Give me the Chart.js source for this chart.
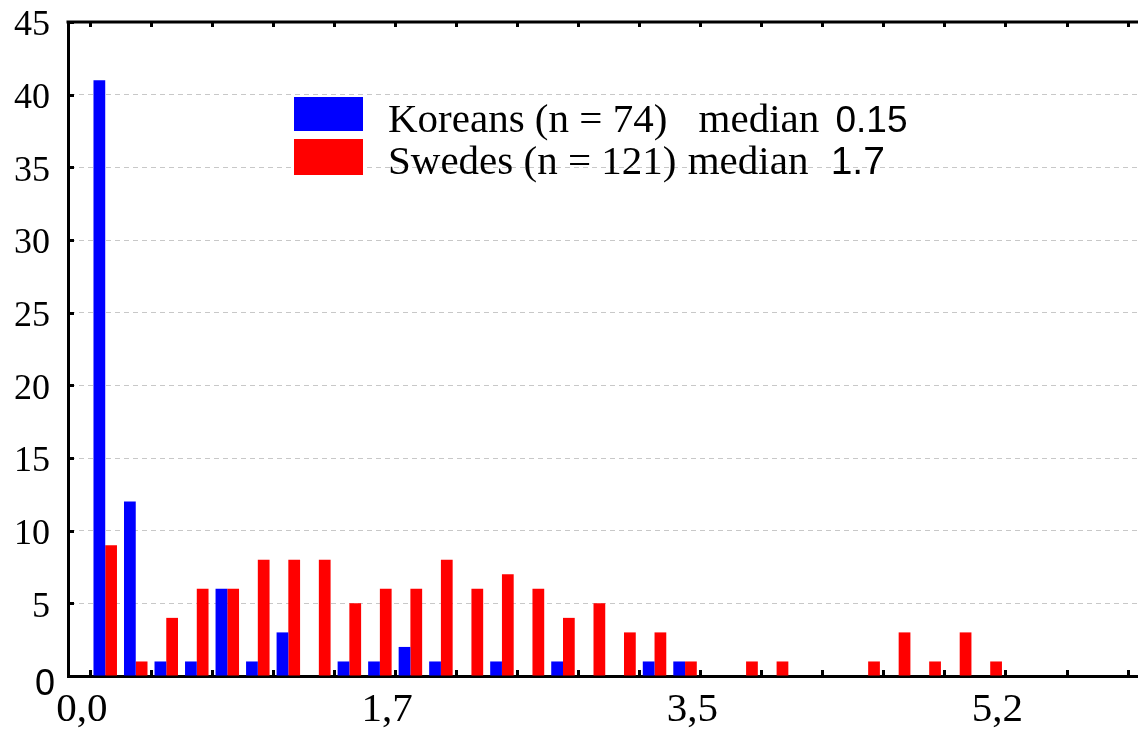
<!DOCTYPE html>
<html><head><meta charset="utf-8">
<script src="https://cdn.jsdelivr.net/npm/chart.js@4/dist/chart.umd.min.js"></script>
<style>
html,body{margin:0;padding:0;background:#fff;}
#wrap{position:relative;width:1138px;height:735px;overflow:hidden;}
#legend{position:absolute;left:294px;top:97px;}
.row{position:absolute;left:0;height:42px;width:700px;}
.box{position:absolute;left:0;top:0;width:69px;height:34px;}
.txt{position:absolute;left:94px;top:4px;line-height:34px;font-family:"Liberation Serif","Times New Roman",serif;font-size:41px;white-space:nowrap;color:#000;}
.num{font-family:"Liberation Sans",Arial,sans-serif;font-size:37px;}
</style></head>
<body><div id="wrap"><canvas id="c" width="1138" height="735"></canvas><div id="legend"></div></div>
<script>
// ---- data ----
const binCenters = [0.0875,0.2625,0.4375,0.6125,0.7875,0.9625,1.1375,1.3125,1.4875,1.6625,
                    1.8375,2.0125,2.1875,2.3625,2.5375,2.7125,2.8875,3.0625,3.2375,3.4125,
                    3.5875,3.7625,3.9375,4.1125,4.2875,4.4625,4.6375,4.8125,4.9875,5.1625];
const koreans = [41,12,1,1,6,1,3,0,1,1,2,1,0,1,0,1,0,0,1,1,0,0,0,0,0,0,0,0,0,0];
const swedes  = [9,1,4,6,6,8,8,8,5,6,6,8,6,7,6,4,5,3,3,1,0,1,1,0,0,1,3,1,3,1];
const seriesNames = ['Koreans (n = 74)', 'Swedes (n = 121)'];
const medianWord = 'median';
const seriesMedians = ['0.15', '1.7'];
const xTickValues = [0,0.35,0.7,1.05,1.4,1.75,2.1,2.45,2.8,3.15,3.5,3.85,4.2,4.55,4.9,5.25,5.6,5.95];
const xLabelValues = [0,1.75,3.5,5.25];
const xLabelTexts = ['0,0','1,7','3,5','5,2'];
const yTickValues = [0,5,10,15,20,25,30,35,40,45];
const yZeroLabel = '0';

// ---- styles ----
const seriesColors = ['#0000ff', '#ff0000'];
const legendGapBefore = [21, 1];
const legendGapAfter = [6, 12];
const medianSizes = [37, 39];
const SERIF = '"Liberation Serif", "Times New Roman", serif';
const SANS = '"Liberation Sans", Arial, sans-serif';

const framePlugin = {
  id: 'frame',
  afterDraw(chart) {
    const {ctx, chartArea: a, scales: {x, y}} = chart;
    ctx.save();
    ctx.strokeStyle = '#000';
    ctx.lineWidth = 3;
    ctx.beginPath();
    ctx.moveTo(a.left - 1.5, a.top);
    ctx.lineTo(a.right, a.top);
    ctx.stroke();
    ctx.beginPath();
    xTickValues.forEach(v => {
      const px = Math.round(x.getPixelForValue(v)) + 0.5;
      ctx.moveTo(px, a.bottom); ctx.lineTo(px, a.bottom - 6);
      ctx.moveTo(px, a.top); ctx.lineTo(px, a.top + 5);
    });
    yTickValues.forEach(v => {
      const py = Math.round(y.getPixelForValue(v)) + 0.5;
      ctx.moveTo(a.left, py); ctx.lineTo(a.left + 6, py);
    });
    ctx.stroke();
    // the zero label of the y axis, drawn in a sans face, slightly below the axis
    ctx.fillStyle = '#000';
    ctx.font = '36px ' + SANS;
    ctx.textAlign = 'right';
    ctx.textBaseline = 'middle';
    ctx.fillText(yZeroLabel, a.left - 13, y.getPixelForValue(0) + 9);
    ctx.restore();
  }
};

const ctx = document.getElementById('c').getContext('2d');
const chart = new Chart(ctx, {
  type: 'bar',
  data: {
    datasets: [
      { label: seriesNames[0], data: binCenters.map((c, i) => ({x: c, y: koreans[i]})),
        backgroundColor: seriesColors[0], categoryPercentage: 0.77, barPercentage: 1.0 },
      { label: seriesNames[1], data: binCenters.map((c, i) => ({x: c, y: swedes[i]})),
        backgroundColor: seriesColors[1], categoryPercentage: 0.77, barPercentage: 1.0 }
    ]
  },
  options: {
    responsive: false,
    animation: false,
    devicePixelRatio: 1,
    layout: { padding: { top: 22, left: 0, right: 0, bottom: 0 } },
    plugins: { legend: { display: false }, tooltip: { enabled: false } },
    scales: {
      x: {
        type: 'linear', min: -0.126, max: 6.01, offset: false,
        afterBuildTicks: s => { s.ticks = xTickValues.map(v => ({ value: v })); },
        afterFit: s => { s.height = 59; s.paddingLeft = 0; s.paddingRight = 0; },
        ticks: {
          autoSkip: false, maxRotation: 0, minRotation: 0, padding: 10, labelOffset: -8,
          color: '#000',
          font: { family: SERIF, size: 41 },
          callback: v => {
            const i = xLabelValues.findIndex(t => Math.abs(t - v) < 1e-6);
            return i >= 0 ? xLabelTexts[i] : '';
          }
        },
        grid: { display: false, drawTicks: false, offset: false },
        border: { display: true, color: '#000', width: 3 }
      },
      y: {
        min: 0, max: 45,
        afterBuildTicks: s => { s.ticks = yTickValues.map(v => ({ value: v })); },
        afterFit: s => { s.width = 68; s.paddingTop = 0; s.paddingBottom = 0; },
        ticks: {
          padding: 18, color: '#000', labelOffset: 4,
          font: { family: SERIF, size: 36 },
          callback: v => (v === 0 ? '' : String(v))
        },
        grid: { color: '#c8c8c8', lineWidth: 1, drawTicks: false },
        border: { display: true, color: '#000', width: 3, dash: [5, 4] }
      }
    }
  },
  plugins: [framePlugin]
});

// HTML legend (real text)
const legend = document.getElementById('legend');
seriesNames.forEach((name, i) => {
  const row = document.createElement('div');
  row.className = 'row';
  row.style.top = (i * 42) + 'px';
  const box = document.createElement('div');
  box.className = 'box';
  box.style.background = seriesColors[i];
  if (i === 1) box.style.height = '36px';
  const txt = document.createElement('div');
  txt.className = 'txt';
  const s1 = document.createElement('span'); s1.textContent = name;
  const s2 = document.createElement('span'); s2.textContent = medianWord; s2.style.marginLeft = legendGapBefore[i] + 'px';
  const s3 = document.createElement('span'); s3.className = 'num'; s3.textContent = seriesMedians[i];
  s3.style.marginLeft = legendGapAfter[i] + 'px'; s3.style.fontSize = medianSizes[i] + 'px';
  txt.append(s1, ' ', s2, ' ', s3);
  row.append(box, txt);
  legend.appendChild(row);
});
</script>
</body></html>
